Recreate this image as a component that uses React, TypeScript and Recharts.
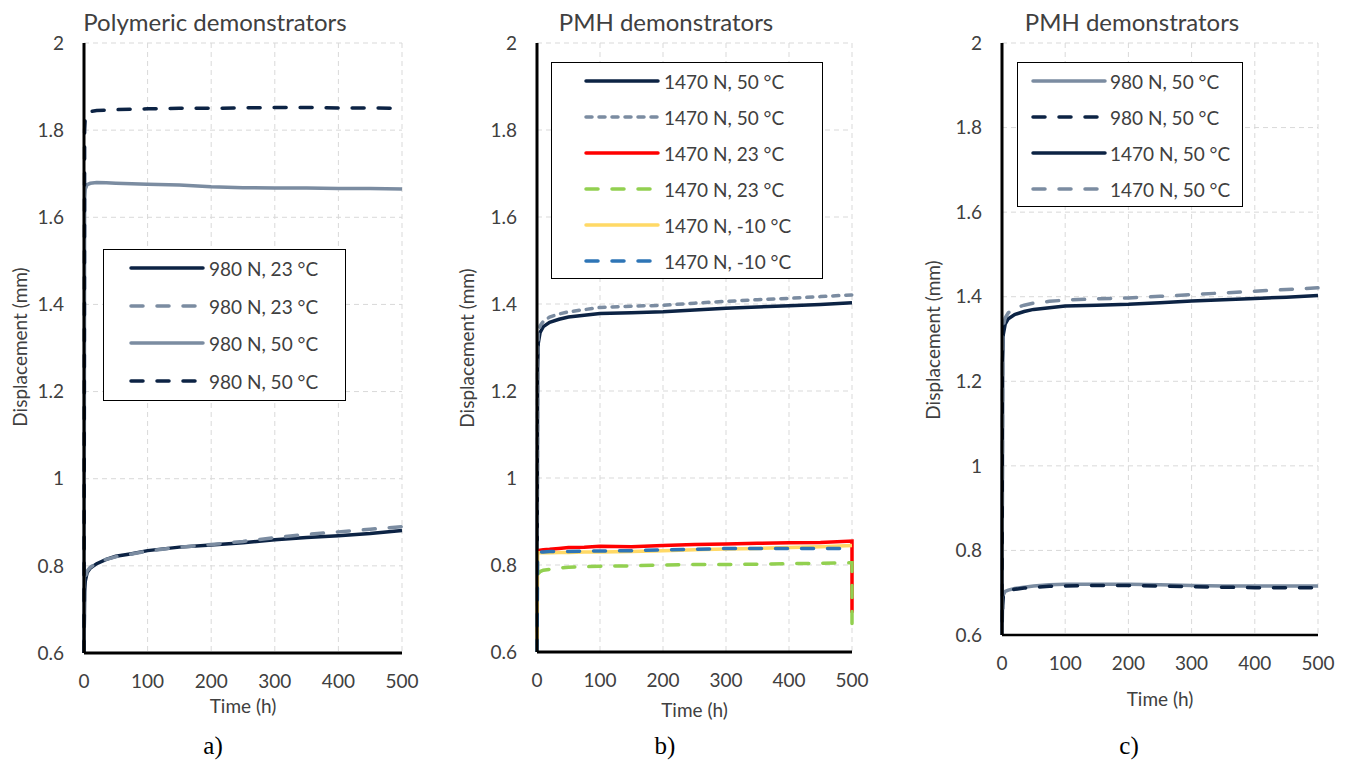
import { LineChart, Line, XAxis, YAxis, CartesianGrid } from "recharts";

const NAVY = "#0c2344";
const GREY = "#7b8ca1";
const RED = "#ff0000";
const GREEN = "#92d050";
const YELLOW = "#ffd966";
const BLUE = "#2e75b6";

const LONG_DASH = "12 14";
const SHORT_DASH = "6 7";

const X_TICKS = [0, 100, 200, 300, 400, 500];
const Y_TICKS = [0.6, 0.8, 1, 1.2, 1.4, 1.6, 1.8, 2];

// panel a) polymeric demonstrators
const TIME_A = [0, 1, 2, 5, 10, 20, 35, 50, 75, 100, 150, 200, 250, 300, 350, 400, 450, 500];
const a980at23 = [0.6, 0.74, 0.765, 0.785, 0.795, 0.805, 0.815, 0.822, 0.828, 0.835, 0.843, 0.848, 0.853, 0.86, 0.865, 0.869, 0.874, 0.881];
const a980at23b = [0.6, 0.75, 0.772, 0.788, 0.797, 0.806, 0.815, 0.821, 0.827, 0.834, 0.843, 0.849, 0.856, 0.865, 0.872, 0.878, 0.884, 0.89];
const a980at50 = [0.6, 1.64, 1.665, 1.675, 1.678, 1.68, 1.679, 1.678, 1.677, 1.676, 1.674, 1.67, 1.668, 1.667, 1.667, 1.666, 1.666, 1.665];
const a980at50b = [0.6, 1.8, 1.83, 1.84, 1.843, 1.845, 1.846, 1.847, 1.848, 1.849, 1.85, 1.85, 1.851, 1.852, 1.852, 1.851, 1.851, 1.85];

// panel b) PMH demonstrators, 1470 N
const TIME_B = [0, 1, 2, 5, 10, 20, 35, 50, 75, 100, 150, 200, 250, 300, 350, 400, 450, 500, 500];
const b50 = [0.6, 1.25, 1.31, 1.335, 1.348, 1.358, 1.365, 1.37, 1.374, 1.378, 1.38, 1.382, 1.386, 1.39, 1.393, 1.396, 1.399, 1.403, null];
const b50b = [0.6, 1.27, 1.33, 1.35, 1.36, 1.37, 1.377, 1.382, 1.387, 1.392, 1.395, 1.397, 1.402, 1.406, 1.41, 1.413, 1.417, 1.421, null];
const b23 = [0.832, 0.832, 0.833, 0.834, 0.835, 0.836, 0.838, 0.84, 0.841, 0.843, 0.842, 0.845, 0.847, 0.848, 0.85, 0.851, 0.852, 0.855, 0.69];
const b23b = [null, null, 0.78, 0.785, 0.788, 0.79, 0.793, 0.795, 0.796, 0.797, 0.798, 0.8, 0.801, 0.801, 0.802, 0.803, 0.804, 0.805, 0.665];
const bm10 = [0.6, 0.828, 0.828, 0.828, 0.828, 0.828, 0.829, 0.829, 0.83, 0.83, 0.831, 0.833, 0.835, 0.837, 0.838, 0.84, 0.842, 0.845, null];
const bm10b = [0.6, 0.83, 0.83, 0.83, 0.83, 0.831, 0.831, 0.831, 0.832, 0.832, 0.833, 0.835, 0.836, 0.838, 0.838, 0.838, 0.838, 0.838, null];

// panel c) PMH demonstrators, 50 °C
const TIME_C = [0, 1, 2, 5, 10, 20, 35, 50, 75, 100, 150, 200, 250, 300, 350, 400, 450, 500];
const c980 = [0.6, 0.68, 0.695, 0.703, 0.706, 0.71, 0.713, 0.716, 0.719, 0.72, 0.72, 0.72, 0.719, 0.717, 0.716, 0.716, 0.716, 0.716];
const c980b = [0.6, 0.67, 0.69, 0.7, 0.705, 0.708, 0.711, 0.713, 0.715, 0.716, 0.717, 0.717, 0.716, 0.714, 0.713, 0.712, 0.712, 0.712];
const c1470 = [0.6, 1.25, 1.31, 1.335, 1.348, 1.358, 1.365, 1.37, 1.374, 1.378, 1.38, 1.382, 1.386, 1.39, 1.393, 1.396, 1.399, 1.403];
const c1470b = [0.6, 1.27, 1.33, 1.35, 1.362, 1.373, 1.38, 1.385, 1.389, 1.392, 1.395, 1.397, 1.401, 1.405, 1.409, 1.413, 1.417, 1.421];

type Series = { name: string; values: (number | null)[]; color: string; dash?: string };

const seriesA: Series[] = [
  { name: "980 N, 23 °C", values: a980at23, color: NAVY },
  { name: "980 N, 23 °C", values: a980at23b, color: GREY, dash: LONG_DASH },
  { name: "980 N, 50 °C", values: a980at50, color: GREY },
  { name: "980 N, 50 °C", values: a980at50b, color: NAVY, dash: LONG_DASH },
];
const seriesB: Series[] = [
  { name: "1470 N, 50 °C", values: b50, color: NAVY },
  { name: "1470 N, 50 °C", values: b50b, color: GREY, dash: SHORT_DASH },
  { name: "1470 N, 23 °C", values: b23, color: RED },
  { name: "1470 N, 23 °C", values: b23b, color: GREEN, dash: LONG_DASH },
  { name: "1470 N, -10 °C", values: bm10, color: YELLOW },
  { name: "1470 N, -10 °C", values: bm10b, color: BLUE, dash: LONG_DASH },
];
const seriesC: Series[] = [
  { name: "980 N, 50 °C", values: c980, color: GREY },
  { name: "980 N, 50 °C", values: c980b, color: NAVY, dash: LONG_DASH },
  { name: "1470 N, 50 °C", values: c1470, color: NAVY },
  { name: "1470 N, 50 °C", values: c1470b, color: GREY, dash: LONG_DASH },
];

const FONT = "Lato, 'Open Sans', sans-serif";
const TEXT = "#404040";

const fmtY = (v: number) => String(Number(v.toFixed(1)));

const buildRows = (time: number[], series: Series[]) =>
  time.map((t, i) => {
    const row: Record<string, number | null> = { t };
    series.forEach((s, k) => {
      row[`s${k}`] = s.values[i];
    });
    return row;
  });

interface PanelProps {
  left: number;
  width: number;
  plotLeft: number;
  plotRight: number;
  plotBottom: number;
  time: number[];
  series: Series[];
  title: string;
  titleX: number;
  yLabelX: number;
  yLabelY: number;
  timeY: number;
  letter: string;
  letterX: number;
  legend: { x: number; y: number; w: number; h: number; sampleX: number; textX: number; rowY: number[] };
  axisWidth: number;
}

function Panel(p: PanelProps) {
  const data = buildRows(p.time, p.series);
  const yAxisW = 40;
  const height = 765;
  const xAxisH = 30;
  const plotTop = 43;
  const { legend } = p;
  const tickStyle = { fontSize: 19, fill: TEXT, fontFamily: FONT };
  return (
    <>
      <div style={{ position: "absolute", left: p.left, top: 0 }}>
        <LineChart
          width={p.width}
          height={height}
          data={data}
          margin={{
            top: plotTop,
            left: p.plotLeft - p.left - yAxisW,
            right: p.left + p.width - p.plotRight,
            bottom: height - p.plotBottom - xAxisH,
          }}
        >
          <CartesianGrid stroke="#d9d9d9" strokeDasharray="5 4" strokeWidth={1} />
          <XAxis
            dataKey="t"
            type="number"
            domain={[0, 500]}
            ticks={X_TICKS}
            height={xAxisH}
            tickLine={false}
            tickSize={0}
            tickMargin={22}
            axisLine={{ stroke: "#000", strokeWidth: p.axisWidth }}
            tick={tickStyle}
          />
          <YAxis
            type="number"
            domain={[0.6, 2]}
            ticks={Y_TICKS}
            allowDataOverflow
            width={yAxisW}
            tickLine={false}
            tickSize={0}
            tickMargin={20}
            tickFormatter={fmtY}
            axisLine={{ stroke: "#000", strokeWidth: 3 }}
            tick={tickStyle}
          />
          {p.series.map((s, k) => (
            <Line
              key={k}
              dataKey={`s${k}`}
              name={s.name}
              type="linear"
              stroke={s.color}
              strokeWidth={3.5}
              strokeDasharray={s.dash}
              strokeLinecap={s.dash ? "round" : "butt"}
              dot={false}
              activeDot={false}
              isAnimationActive={false}
            />
          ))}
        </LineChart>
      </div>
      <div
        style={{
          position: "absolute",
          left: legend.x,
          top: legend.y,
          width: legend.w,
          height: legend.h,
          border: "1.5px solid #000",
          background: "#fff",
          boxSizing: "border-box",
        }}
      />
      <svg
        style={{ position: "absolute", left: 0, top: 0, pointerEvents: "none" }}
        width={1349}
        height={765}
      >
        {p.series.map((s, k) => (
          <g key={k}>
            <line
              x1={legend.sampleX}
              x2={legend.sampleX + 72}
              y1={legend.rowY[k]}
              y2={legend.rowY[k]}
              stroke={s.color}
              strokeWidth={3.5}
              strokeDasharray={s.dash}
              strokeLinecap="round"
            />
            <text
              x={legend.textX}
              y={legend.rowY[k]}
              dominantBaseline="central"
              fontFamily={FONT}
              fontSize={19}
              fill={TEXT}
            >
              {s.name}
            </text>
          </g>
        ))}
        <text x={p.titleX} y={21} textAnchor="middle" dominantBaseline="central" fontFamily={FONT} fontSize={24} fill={TEXT}>
          {p.title}
        </text>
        <text
          x={p.yLabelX}
          y={p.yLabelY}
          textAnchor="middle"
          dominantBaseline="central"
          fontFamily={FONT}
          fontSize={19}
          fill={TEXT}
          transform={`rotate(-90 ${p.yLabelX} ${p.yLabelY})`}
        >
          Displacement (mm)
        </text>
        <text
          x={(p.plotLeft + p.plotRight) / 2}
          y={p.timeY}
          textAnchor="middle"
          dominantBaseline="central"
          fontFamily={FONT}
          fontSize={19}
          fill={TEXT}
        >
          Time (h)
        </text>
        <text
          x={p.letterX}
          y={745}
          textAnchor="middle"
          dominantBaseline="central"
          fontFamily="'Liberation Serif', 'Times New Roman', serif"
          fontSize={25}
          fill="#000"
        >
          {p.letter}
        </text>
      </svg>
    </>
  );
}

export default function App() {
  return (
    <div style={{ position: "absolute", left: 0, top: 0, width: 1349, height: 765, background: "#fff", overflow: "hidden" }}>
      <Panel
        left={0}
        width={440}
        plotLeft={84}
        plotRight={402}
        plotBottom={653}
        time={TIME_A}
        series={seriesA}
        title="Polymeric demonstrators"
        titleX={215}
        yLabelX={19}
        yLabelY={347}
        timeY={705}
        letter="a)"
        letterX={213}
        axisWidth={3}
        legend={{ x: 103, y: 249, w: 243, h: 152, sampleX: 131, textX: 209, rowY: [268, 306, 343, 381] }}
      />
      <Panel
        left={440}
        width={440}
        plotLeft={537}
        plotRight={852}
        plotBottom={652}
        time={TIME_B}
        series={seriesB}
        title="PMH demonstrators"
        titleX={666}
        yLabelX={466}
        yLabelY={348}
        timeY={709}
        letter="b)"
        letterX={665}
        axisWidth={3}
        legend={{ x: 551, y: 62, w: 272, h: 217, sampleX: 586, textX: 664, rowY: [81, 117, 153, 189, 225, 261] }}
      />
      <Panel
        left={900}
        width={449}
        plotLeft={1002}
        plotRight={1318}
        plotBottom={635}
        time={TIME_C}
        series={seriesC}
        title="PMH demonstrators"
        titleX={1132}
        yLabelX={932}
        yLabelY={340}
        timeY={698}
        letter="c)"
        letterX={1129}
        axisWidth={2.5}
        legend={{ x: 1017, y: 62, w: 226, h: 145, sampleX: 1033, textX: 1110, rowY: [81, 117, 153, 189] }}
      />
    </div>
  );
}
